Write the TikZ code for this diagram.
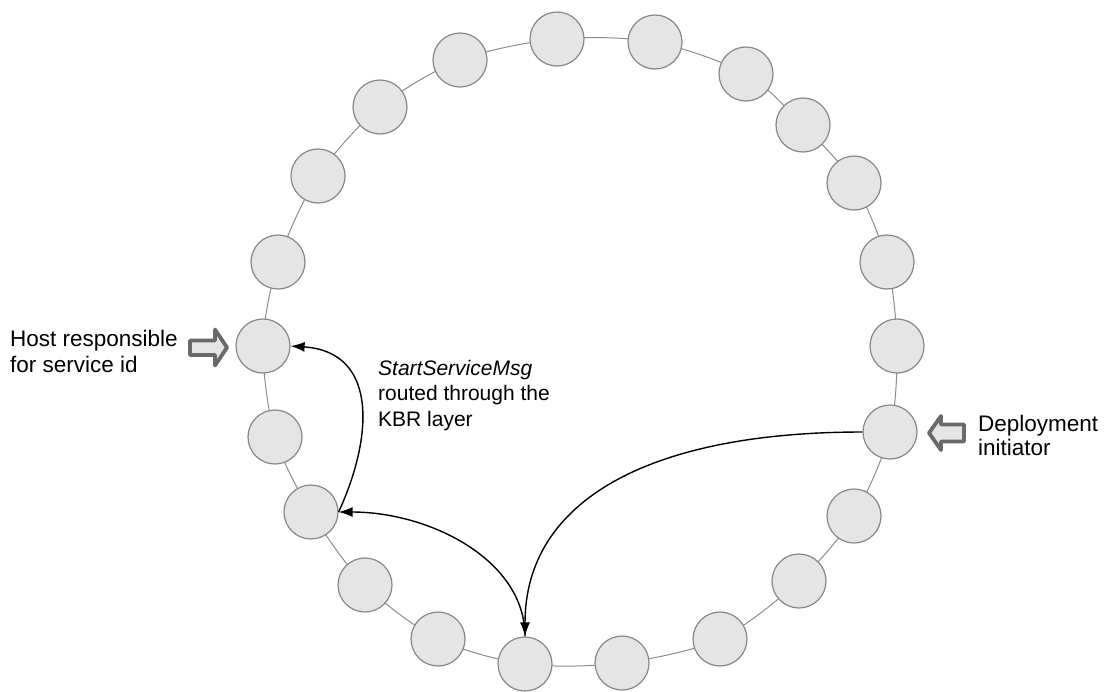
\documentclass[tikz,border=0pt]{standalone}
\usepackage{fontspec}
\setmainfont{Liberation Sans}
\usetikzlibrary{arrows.meta,backgrounds}
\definecolor{nodefill}{RGB}{229,229,229}
\definecolor{nodeline}{RGB}{135,135,135}
\definecolor{ringline}{RGB}{140,140,140}
\definecolor{barrowline}{RGB}{105,105,105}
\begin{document}
\begin{tikzpicture}[x=1pt,y=-1pt,
  ringnode/.style={circle,draw=nodeline,fill=nodefill,line width=1.2pt,minimum size=54pt,inner sep=0pt},
  ring/.style={draw=ringline,line width=1pt},
  msg/.style={line width=1.4pt,-{Latex[length=14pt,width=10pt]}},
  blockarrow/.style={draw=barrowline,fill=nodefill,line width=3.8pt,line join=round},
  label/.style={align=left,inner sep=0pt}]
\useasboundingbox (0,0) rectangle (1110,691);
\foreach \i/\x/\y in {1/557/39,2/655/42,3/746/74,4/803/125,5/854/183,6/887/262,7/897/346,8/890/432,
  9/854/516,10/799/581,11/720/639,12/622/663,13/525/664,14/438/639,15/365/585,16/311/512,
  17/275/437,18/263/346,19/278/262,20/318/176,21/380/107,22/460/60}
  \node[ringnode] (n\i) at (\x,\y) {};
\begin{scope}[on background layer]
\draw[ring] plot[smooth cycle,tension=0.5] coordinates {(n1.center) (n2.center) (n3.center) (n4.center) (n5.center) (n6.center) (n7.center) (n8.center) (n9.center) (n10.center) (n11.center) (n12.center) (n13.center) (n14.center) (n15.center) (n16.center) (n17.center) (n18.center) (n19.center) (n20.center) (n21.center) (n22.center)};
\end{scope}
% messages
\draw[msg] (n8.west) .. controls (650,432) and (525,500) .. (n13.north);
\draw[msg] (n13.north) .. controls (525,560) and (430,512) .. (n16.east);
\draw[msg] (n16.east) .. controls (372,440) and (380,352) .. (n18.east);
% block arrows
\draw[blockarrow] (190,340.5) -- (215,340.5) -- (215,329.5) -- (227,347.5) -- (215,365.5) -- (215,355) -- (190,355) -- cycle;
\draw[blockarrow] (964,424.5) -- (941,424.5) -- (941,416) -- (929,433) -- (941,450) -- (941,441.5) -- (964,441.5) -- cycle;
% labels
\node[label,anchor=north west,font=\fontsize{22.5}{26.5}\selectfont] (hostlbl) at (10,329.6) {Host responsible\\for service id};
\node[label,anchor=north west,font=\fontsize{22.5}{24}\selectfont] (deplbl) at (978,414.6) {Deployment\\initiator};
\node[label,anchor=north west,font=\fontsize{21}{25.5}\selectfont] (msglbl) at (378,360) {\textit{StartServiceMsg}\\routed through the\\KBR layer};
\end{tikzpicture}
\end{document}
